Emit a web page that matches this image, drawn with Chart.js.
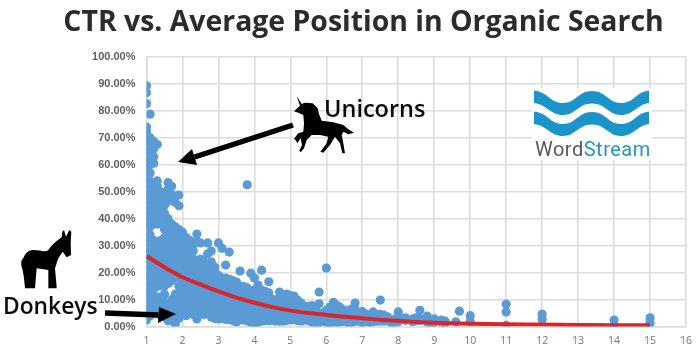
<!DOCTYPE html>
<html><head><meta charset="utf-8">
<style>html,body{margin:0;padding:0;background:#fff}#w{width:700px;height:358px;position:relative}</style>
<script src="https://cdn.jsdelivr.net/npm/chart.js@4/dist/chart.umd.min.js"></script>
</head><body><div id="w"><canvas id="c" width="700" height="358"></canvas></div>
<script>
const titleText = "CTR vs. Average Position in Organic Search";
const xTicks = [1,2,3,4,5,6,7,8,9,10,11,12,13,14,15,16];
const yTicks = [0,10,20,30,40,50,60,70,80,90,100];
const columnX = [1,1.1,1.2,1.3,1.4,1.5,1.6,1.7,1.8,1.9,2,2.1,2.2,2.3,2.4,2.5,2.6,2.7,2.8,2.9,3,3.1,3.2,3.3,3.4,3.5,3.6,3.7,3.8,3.9,4,4.1,4.2,4.3,4.4,4.5,4.6,4.7,4.8,4.9,5,5.1,5.2,5.3,5.4,5.5,5.6,5.7,5.8,5.9,6,6.1,6.2,6.3,6.4,6.5,6.6,6.7,6.8,6.9,7,7.1,7.2,7.3,7.4,7.5,7.6,7.7,7.8,7.9,8,8.2,8.4,8.5,8.6,8.8,8.9,9,9.2,9.3];
const columnCtr = [
[2.4,5,7,9,11,13,15,17,19,21,23,25,27,29,31,33,35,37,39,41,43,45,47,49,51,53,55,57,59,61,63,65,67,69,71,72.5,74,82.7,86.7,89.3],
[4,7,10,13,16,19,22,25,28,31,34,37,40,43,46,49,52,54,57,60,62,65,68,70,78.8],
[5,8,11,14,17,20,23,26,29,32,38,41,44,47,50,53,60.6,63,66,68.6],
[5,8,11,15,18,21,24,27,30,38,40,43,46,49,52,54,67.5],
[4,7,10,15,17,20,23,26,29,32,38,42,45,48,50],
[3.5,6,9,12,15,18,21,24,27,30,33,36,39,42,45,48],
[2.1,5,8,16,19,22,25,28,31,34,37,40,46.5,49,51,53.4],
[4,7,10,17,20,23,26,29,32,35,38,47,49,52],
[0.9,4,7,10,12,19,22,25,28,31,34,37,46],
[3,6,9,12,15,18,21,24,27,30,33,36,44.8,48.8],
[5,8,11,14,17,20,23,26,29,32,35],
[4,7,10,13,16,19,22,25,28,31,33],
[5,8,11,14,17,20,23,26,29,32],
[4.5,7,10,13,16,19,22,25,28,30.5],
[2.8,6,9,12,15,18,21,24,31.5,34.3],
[5,8,11,14,17,20,23,25,31],
[4.5,7,10,13,16,19,22,24],
[5,8,11,14,17,20,23,27,31],
[3.5,6,9,12,15,18,21,24,28],
[3,5.5,8,11,14,17,20,22],
[2.8,5,8,11,14,16,19,31],
[3,5.5,8,10.5,13,15.5,18,29],
[2.6,5,7.5,10,12.5,15,18,22.8],
[2.5,5,7.5,10,12.5,15,17.5,27.6],
[2.2,4.5,7,9.5,12,14.5,17],
[1.7,4,6.5,9,11.5,14,16.5],
[2.5,5,7.5,10,12.5,15,20.6],
[2.4,5,7.5,10,12.5,14.8],
[2.2,4.5,7,9.5,12,14.3],
[1.4,3.5,6,8.5,11,13,19.8],
[1.3,3.5,6,8.5,11,13.5,18],
[1.6,4,6.5,9,11.5,15.4],
[2,4,6.5,9,11.5,13.5,20.9],
[2.2,4.5,6.5,9,11,13],
[2.2,4.5,6.5,9,10.5,12.5,16.6],
[2.2,4.5,6.5,8.5,10],
[2,4,6,8,10],
[2,4,6,8,9.5,12.8],
[2,4,6,8,10,11.8],
[2.2,4,6,8,10,12],
[2.5,4.5,6.5,8.5,10,11.5],
[2.5,4.5,6.5,8.5,11.3],
[2.2,4,6,8,9.8],
[2,4,5.8,7.5,8.7],
[2.4,4,5.6,7.2],
[2.2,4,5.8,7.5],
[1.6,3.2,4.8,6.5,7.8],
[1.4,3,4.5,6,7.5],
[1.6,3.2,5,12.8,8.4],
[2,3.5,5],
[1.6,3.2,4.8,6,21.7],
[1.4,3,4.5,6,7.2],
[1.6,3.2,5,7,9],
[1.5,3,4.5,6,7.8],
[1.7,3.2,4.8,6,7],
[2,3.4,5,6],
[1.4,3,4.6,5.8],
[1.5,3,4.5,6.5],
[2,3.5,5,6.5,8.7],
[2,3.4,4.8],
[1.5,3,4.2,5.5],
[2,3.2,4.6],
[1.5,3,4.2],
[1.8,3,4.2,5.4],
[2,3.2,4.4],
[2,3.2,4.5,9.8],
[2,3,4.2],
[2.6,3.6],
[1.4,2.6],
[1.5,2.6],
[1.8,3,4.2,5.4],
[2.3,3.2],
[1.8,2.8],
[2.2,3.2],
[2.2,3,6],
[1.7,2.8,3.9],
[1.4,2.4],
[1.5,2.8],
[1.6,2.4],
[1.2,2]
];
const outlierX = [3.8,9.6,9.7,10,10,11,11,11,12,12,14,14,15,15];
const outlierCtr = [52.6,1.7,5.7,4,1.9,8.3,5.4,0.4,4.6,2.7,2.4,0.5,3.2,1.2];
const trendX = [1,1.5,2,2.5,3,3.5,4,4.5,5,5.5,6,6.5,7,7.5,8,8.5,9,10,11,12,13,14,15];
const trendCtr = [26.2,22,18.3,15.6,13,10.7,8.8,7.2,5.9,5,4.3,3.6,3.1,2.5,2.1,1.7,1.4,1,0.8,0.7,0.6,0.5,0.5];

const scatterData = [];
columnX.forEach((x,i)=>columnCtr[i].forEach(y=>scatterData.push({x,y})));
outlierX.forEach((x,i)=>scatterData.push({x,y:outlierCtr[i]}));
const trendData = trendX.map((x,i)=>({x,y:trendCtr[i]}));

const unicorn = new Path2D("M50 18L65 42L75 38L98 40L113 55L117 72L125 92L160 97L190 105L205 118L222 128L205 133L190 125L185 135L190 160L195 190L187 190L180 160L165 140L150 165L130 188L121 185L140 160L145 140L120 135L95 135L80 150L72 175L62 187L58 182L66 165L62 145L52 160L48 152L42 146L55 130L70 125L72 100L70 75L55 68L42 64L60 47Z");
const donkey = new Path2D("M70 115C75 100 85 90 100 90C120 90 135 98 145 90C155 75 170 62 185 52L187 35L192 30L198 50L208 30L214 35L212 70L213 105L200 112L188 95L175 115L165 145L170 200L170 205L145 205L145 150L110 145L105 205L75 205L72 175L68 150C62 135 62 120 70 115Z");

function wave(ctx,dy){
  ctx.beginPath();
  ctx.moveTo(534,90.5+dy);
  ctx.bezierCurveTo(548,92+dy,550,103+dy,563,103+dy);
  ctx.bezierCurveTo(576,103+dy,578,91+dy,592,91+dy);
  ctx.bezierCurveTo(606,91+dy,608,103+dy,621,103+dy);
  ctx.bezierCurveTo(634,103+dy,636,92+dy,649,90.5+dy);
  ctx.lineTo(649,103+dy);
  ctx.bezierCurveTo(636,105+dy,634,115+dy,621,115+dy);
  ctx.bezierCurveTo(608,115+dy,606,103.5+dy,592,103.5+dy);
  ctx.bezierCurveTo(578,103.5+dy,576,115+dy,563,115+dy);
  ctx.bezierCurveTo(550,115+dy,548,105+dy,534,103+dy);
  ctx.closePath();ctx.fill();
}
function arrow(ctx,x0,y0,x1,y1,hx,hy,ix,iy){
  ctx.strokeStyle="#000";ctx.lineWidth=5.5;ctx.beginPath();ctx.moveTo(x0,y0);ctx.lineTo((hx+ix)/2,(hy+iy)/2);ctx.stroke();
  ctx.fillStyle="#000";ctx.beginPath();ctx.moveTo(x1,y1);ctx.lineTo(hx,hy);ctx.lineTo(ix,iy);ctx.closePath();ctx.fill();
}
const overlay = {id:"overlay",afterDraw(chart){
  const ctx=chart.ctx;ctx.save();
  ctx.fillStyle="#fff";ctx.fillRect(532,88,120,72);
  ctx.fillStyle="#1b95c9";wave(ctx,0);wave(ctx,21);
  ctx.textBaseline="alphabetic";ctx.textAlign="left";
  ctx.font="20px Roboto";ctx.letterSpacing="0.5px";
  ctx.fillStyle="#58585a";ctx.fillText("Word",535,156);
  const w=ctx.measureText("Word").width;
  ctx.fillStyle="#2398c8";ctx.fillText("Stream",535+w,156);
  ctx.letterSpacing="0px";
  ctx.fillStyle="#000";
  ctx.save();ctx.translate(280,90);ctx.scale(1/3,1/3);ctx.fill(unicorn);ctx.restore();
  ctx.save();ctx.translate(0,220);ctx.scale(1/3,1/3);ctx.fill(donkey);ctx.restore();
  ctx.fillStyle="#0a0a14";
  ctx.font="600 23.5px 'Open Sans'";ctx.fillText("Unicorns",324,117);
  ctx.font="600 22.8px 'Open Sans'";ctx.fillText("Donkeys",3,314);
  arrow(ctx,293,125,178,162,192,149,197,165);
  arrow(ctx,105,313,176,314,159,307,158,323);
  ctx.restore();
}};
new Chart(document.getElementById("c"),{
  type:"scatter",
  data:{datasets:[
    {label:"Trend",data:trendData,showLine:true,order:0,borderColor:"#d8262b",borderWidth:4,pointRadius:0,cubicInterpolationMode:"monotone",fill:false},
    {label:"CTR",data:scatterData,order:1,backgroundColor:"#5b9bd5",borderColor:"#5b9bd5",pointRadius:4.6,pointBorderWidth:0}
  ]},
  options:{
    responsive:false,animation:false,
    layout:{padding:{left:40,right:13,top:0,bottom:0}},
    plugins:{legend:{display:false},tooltip:{enabled:false},
      title:{display:true,text:titleText,color:"#2b2b2b",font:{family:"'Open Sans'",size:28.4,weight:"700",lineHeight:1},padding:{top:9,bottom:19.6}}},
    scales:{
      x:{type:"linear",min:1,max:16,afterFit(s){s.height=31.5},
        afterBuildTicks(s){s.ticks=xTicks.map(value=>({value}))},
        grid:{color:"#dcdcdc",lineWidth:1.6,drawTicks:false},border:{color:"#dcdcdc",width:1.6},
        ticks:{color:"#777",font:{family:"'Open Sans'",size:10.5},padding:8,maxRotation:0,autoSkip:false}},
      y:{min:0,max:100,afterFit(s){s.width=106.5},
        afterBuildTicks(s){s.ticks=yTicks.map(value=>({value}))},
        grid:{color:"#dcdcdc",lineWidth:1.6,drawTicks:false},border:{color:"#dcdcdc",width:1.6},
        ticks:{color:"#5f5f5f",font:{family:"'Liberation Sans'",size:11,weight:"700"},padding:11,autoSkip:false,callback:v=>v.toFixed(2)+"%"}}
    }
  },
  plugins:[overlay]
});
</script></body></html>
